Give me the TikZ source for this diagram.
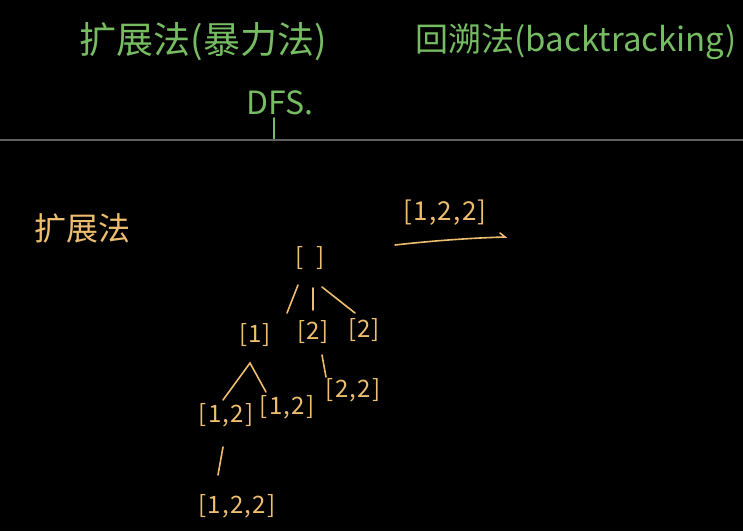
\documentclass[tikz,border=0pt]{standalone}
\usepackage{fontspec}
\setmainfont{Noto Sans CJK SC}
\newfontfamily\handfont[LetterSpace=5]{Noto Sans CJK SC}
\definecolor{grn}{RGB}{118,188,98}
\definecolor{org}{RGB}{238,190,112}
\definecolor{rulegray}{RGB}{95,95,95}
\begin{document}
\begin{tikzpicture}[x=1pt,y=-1pt,
  gtxt/.style={text=grn, inner sep=0pt, font=\fontsize{37}{37}\selectfont},
  otxt/.style={text=org, inner sep=0pt, font=\handfont\fontsize{24}{24}\selectfont},
  glink/.style={draw=grn, line width=1.6pt, line cap=round},
  olink/.style={draw=org, line width=1.6pt, line cap=round}]
\fill[black] (0,0) rectangle (743,531);
\useasboundingbox (0,0) rectangle (743,531);
% header
\node[gtxt] (t1) at (203,42) {扩展法(暴力法)};
\node[gtxt, font=\fontsize{33}{33}\selectfont] (t2) at (576,42) {回溯法(backtracking)};
\node[gtxt, font=\fontsize{32}{32}\selectfont] (dfs) at (280,103) {DFS.};
\coordinate (fstem) at (274,118);
\coordinate (hl) at (0,140);
\coordinate (hr) at (743,140);
\coordinate (fbase) at (274,140);
\draw[glink] (fstem) -- (fbase);
\draw[rulegray, line width=1.4pt] (hl) -- (hr);
% lower part
\node[otxt, font=\fontsize{32}{32}\selectfont] (k) at (82,228) {扩展法};
\node[otxt, font=\handfont\fontsize{26}{26}\selectfont] (res) at (445,213) {[1,2,2]};
\coordinate (a1) at (395,245);
\coordinate (a2) at (505,237);
\coordinate (a3) at (500,233);
\draw[olink] (a1) .. controls (430,241) and (470,238) .. (a2) -- (a3);
% tree
\node[otxt] (root) at (310,258) {[~~]};
\node[otxt] (n1) at (255,335) {[1]};
\node[otxt] (n2) at (313,332) {[2]};
\node[otxt] (n3) at (364,330) {[2]};
\node[otxt] (n22) at (353,390) {[2,2]};
\node[otxt] (n12a) at (226,415) {[1,2]};
\node[otxt] (n12b) at (287,407) {[1,2]};
\node[otxt] (n122) at (237,506) {[1,2,2]};
\draw[olink] ([shift={(-12,27)}]root.center) -- ([shift={(32,-22)}]n1.center);
\draw[olink] ([shift={(3,30)}]root.center) -- ([shift={(0,-22)}]n2.center);
\draw[olink] ([shift={(12,29)}]root.center) -- ([shift={(-9,-17)}]n3.center);
\draw[olink] ([shift={(9,23)}]n2.center) -- ([shift={(-27,-13)}]n22.center);
\draw[olink] ([shift={(-3,-15)}]n12a.center) -- ([shift={(-5,28)}]n1.center) -- ([shift={(-21,-15)}]n12b.center);
\draw[olink] ([shift={(-3,32)}]n12a.center) -- ([shift={(-19,-31)}]n122.center);
\end{tikzpicture}
\end{document}
